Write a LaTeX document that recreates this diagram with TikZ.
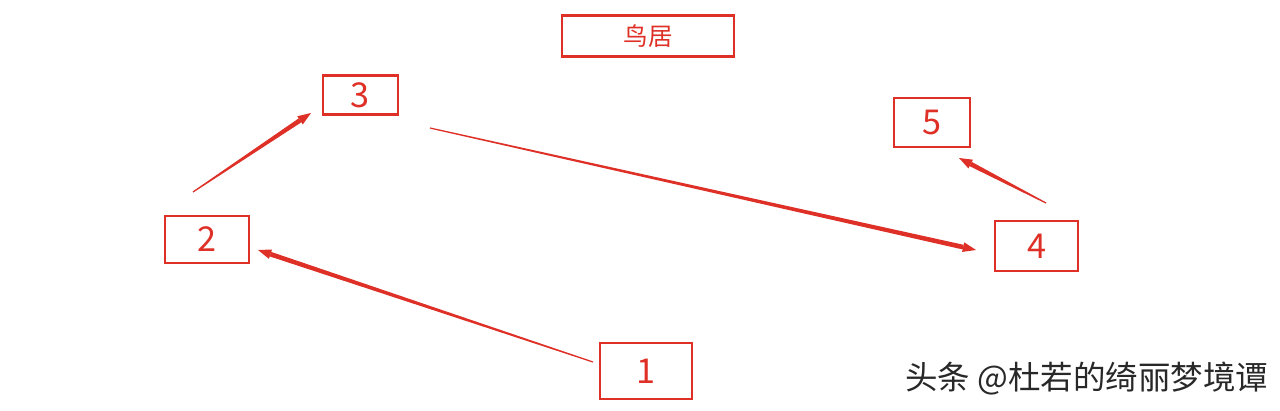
\documentclass[tikz,border=0pt]{standalone}
\usepackage{fontspec}
\setmainfont{Noto Sans CJK SC}
\usetikzlibrary{calc}
\definecolor{boxred}{RGB}{222,48,38}
\definecolor{wm}{RGB}{40,40,40}
\tikzset{
  numbox/.style={draw=boxred, line width=1.3pt, text=boxred, inner sep=0pt, font=\fontsize{19.5}{22}\selectfont},
}
\newcommand\taperarrow[2]{%
  \coordinate (tmpb) at ($(#2)!7.5pt!(#1)$);
  \fill[boxred] ($(#1)!0.35pt!90:(#2)$) -- ($(tmpb)!1.35pt!-90:(#1)$) -- ($(tmpb)!1.35pt!90:(#1)$) -- ($(#1)!0.35pt!-90:(#2)$) -- cycle;
  \fill[boxred] (#2) -- ($(tmpb)!2.8pt!90:(#2)$) -- ($(tmpb)!2.8pt!-90:(#2)$) -- cycle;
}
\begin{document}
\begin{tikzpicture}[x=0.02cm,y=-0.02cm]
\useasboundingbox (0,0) rectangle (1280,410);
\node[numbox, minimum width=172*0.02cm, minimum height=41*0.02cm, font=\fontsize{14}{16}\selectfont] (torii) at (648,36) {鸟居};
\node[numbox, minimum width=75*0.02cm, minimum height=39*0.02cm] (n3) at (360.5,95) {3};
\node[numbox, minimum width=84*0.02cm, minimum height=47*0.02cm] (n2) at (207,239.5) {2};
\node[numbox, minimum width=76*0.02cm, minimum height=49*0.02cm] (n5) at (932,122.5) {5};
\node[numbox, minimum width=83*0.02cm, minimum height=50*0.02cm] (n4) at (1036.5,246) {4};
\node[numbox, minimum width=92*0.02cm, minimum height=56*0.02cm] (n1) at (646,371) {1};
\coordinate (s12) at (593,362); \coordinate (e12) at (258,250);
\coordinate (s23) at (193,192); \coordinate (e23) at (311,113);
\coordinate (s34) at (430,128); \coordinate (e34) at (976,250);
\coordinate (s45) at (1046,203); \coordinate (e45) at (959,158);
\taperarrow{s12}{e12}
\taperarrow{s23}{e23}
\taperarrow{s34}{e34}
\taperarrow{s45}{e45}
\node[text=wm, anchor=west, inner sep=0pt, font=\fontsize{18.5}{22}\selectfont] (wmk) at (905,379) {头条 @杜若的绮丽梦境谭};
\end{tikzpicture}
\end{document}
